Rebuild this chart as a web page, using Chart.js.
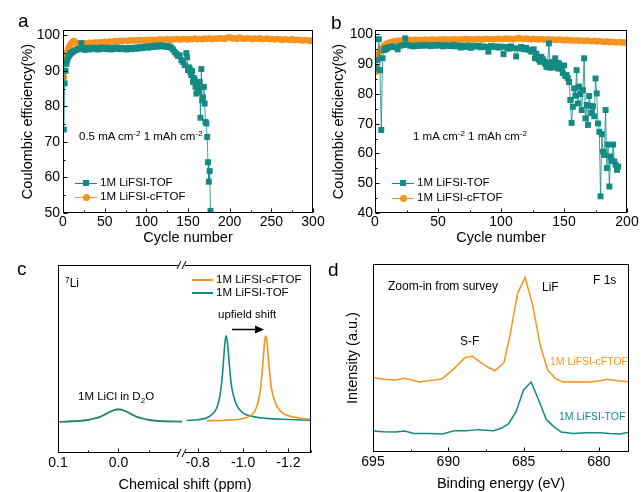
<!DOCTYPE html>
<html>
<head>
<meta charset="utf-8">
<title>Coulombic efficiency, 7Li NMR and F 1s XPS</title>
<script src="https://cdn.jsdelivr.net/npm/chart.js@4.4.1/dist/chart.umd.min.js"></script>
<style>
  html, body { margin: 0; padding: 0; background: #fff; overflow: hidden; }
  #fig { position: relative; width: 641px; height: 492px; overflow: hidden;
         font-family: "Liberation Sans", Arial, sans-serif; color: #000; }
  #fig canvas { position: absolute; }
  .t { position: absolute; line-height: 1; white-space: nowrap; transform: translateY(-50%); }
  .tc { position: absolute; line-height: 1; white-space: nowrap; transform: translate(-50%, -50%); }
  .letter { font-size: 19px; }
  .sup { font-size: 0.7em; position: relative; top: -0.5em; }
  .sub { font-size: 0.7em; position: relative; top: 0.35em; }
  .row { position: absolute; height: 0; }
  .row .ln { position: absolute; left: 0; height: 0; }
  .row .mk { position: absolute; }
  .row .lab { position: absolute; line-height: 1; white-space: nowrap; transform: translateY(-50%); }
</style>
</head>
<body>
<div id="fig">
  <canvas id="chartA" width="330" height="250" style="left:0;top:0"></canvas>
  <canvas id="chartB" width="321" height="250" style="left:320px;top:0"></canvas>
  <canvas id="chartCL" width="200" height="242" style="left:0;top:250px"></canvas>
  <canvas id="chartCR" width="160" height="242" style="left:170px;top:250px"></canvas>
  <canvas id="chartD" width="321" height="250" style="left:320px;top:250px"></canvas>

  <!-- panel letters -->
  <div class="t letter" style="left:18px;top:20px">a</div>
  <div class="t letter" style="left:331px;top:22px">b</div>
  <div class="t letter" style="left:17px;top:268px">c</div>
  <div class="t letter" style="left:328px;top:269px">d</div>

  <!-- panel a notes -->
  <div class="t" style="left:79px;top:137px;font-size:11.5px">0.5 mA cm<span class="sup">-2</span> 1 mAh cm<span class="sup">-2</span></div>
  <div class="row" style="left:75px;top:183px">
    <i class="ln" style="width:22px;top:-0.5px;border-top:1px solid #138a84"></i>
    <i class="mk" style="left:8px;top:-3px;width:6px;height:6px;background:#138a84"></i>
    <span class="lab" style="left:25px;font-size:11.5px">1M LiFSI-TOF</span>
  </div>
  <div class="row" style="left:75px;top:197px">
    <i class="ln" style="width:22px;top:-0.5px;border-top:1px solid #f7931e"></i>
    <i class="mk" style="left:7.5px;top:-3.5px;width:7px;height:7px;border-radius:50%;background:#f7931e"></i>
    <span class="lab" style="left:25px;font-size:11.5px">1M LiFSI-cFTOF</span>
  </div>

  <!-- panel b notes -->
  <div class="t" style="left:413px;top:137px;font-size:11.5px">1 mA cm<span class="sup">-2</span> 1 mAh cm<span class="sup">-2</span></div>
  <div class="row" style="left:392px;top:183px">
    <i class="ln" style="width:22px;top:-0.5px;border-top:1px solid #138a84"></i>
    <i class="mk" style="left:8px;top:-3px;width:6px;height:6px;background:#138a84"></i>
    <span class="lab" style="left:25px;font-size:11.5px">1M LiFSI-TOF</span>
  </div>
  <div class="row" style="left:392px;top:198px">
    <i class="ln" style="width:22px;top:-0.5px;border-top:1px solid #f7931e"></i>
    <i class="mk" style="left:7.5px;top:-3.5px;width:7px;height:7px;border-radius:50%;background:#f7931e"></i>
    <span class="lab" style="left:25px;font-size:11.5px">1M LiFSI-cFTOF</span>
  </div>

  <!-- panel c notes -->
  <div class="t" style="left:65px;top:283px;font-size:12px"><span class="sup">7</span>Li</div>
  <div class="row" style="left:192px;top:280px">
    <i class="ln" style="width:21px;top:-1px;border-top:2px solid #f7931e"></i>
    <span class="lab" style="left:24px;font-size:11.5px">1M LiFSI-cFTOF</span>
  </div>
  <div class="row" style="left:192px;top:293px">
    <i class="ln" style="width:21px;top:-1px;border-top:2px solid #138a84"></i>
    <span class="lab" style="left:24px;font-size:11.5px">1M LiFSI-TOF</span>
  </div>
  <div class="t" style="left:218px;top:315px;font-size:11.5px">upfield shift</div>
  <svg style="position:absolute;left:232px;top:324px" width="34" height="11">
    <line x1="0" y1="5.5" x2="25" y2="5.5" stroke="#000" stroke-width="1.5"></line>
    <polygon points="23,1.5 32,5.5 23,9.5" fill="#000"></polygon>
  </svg>
  <div class="t" style="left:78px;top:397px;font-size:11.5px">1M LiCl in D<span class="sub">2</span>O</div>
  <div class="tc" style="left:185px;top:484px;font-size:14.5px">Chemical shift (ppm)</div>

  <!-- panel d notes -->
  <div class="t" style="left:388px;top:286px;font-size:12px">Zoom-in from survey</div>
  <div class="t" style="left:542px;top:287px;font-size:12px">LiF</div>
  <div class="t" style="left:593px;top:280px;font-size:12px">F 1s</div>
  <div class="t" style="left:460px;top:341px;font-size:12px">S-F</div>
  <div class="t" style="left:550px;top:361px;font-size:10.5px;color:#f7931e">1M LiFSI-cFTOF</div>
  <div class="t" style="left:559px;top:416px;font-size:10.5px;color:#138a84">1M LiFSI-TOF</div>
</div>

<script>
const TEAL = '#138a84';
const ORANGE = '#f7931e';

// ---- panel a: 0.5 mA cm-2, 1 mAh cm-2 ----
const cycleTicksA = [0, 50, 100, 150, 200, 250, 300];
const ceTicksA = [50, 60, 70, 80, 90, 100];
const tofACycles = [1,2,3,4,5,6,7,8,9,10,12,14,16,18,20,22,24,26,28,30,32,34,36,38,40,42,44,46,48,50,52,54,56,58,60,62,64,66,68,70,72,74,76,78,80,82,84,86,88,90,92,94,96,98,100,102,104,106,108,110,112,114,116,118,120,122,124,126,128,130,132,134,136,138,140,142,144,146,148,149,150,151,152,153,154,155,156,157,158,159,160,161,162,163,164,165,166,167,168,169,170,171,172,173,174,175,176,177];
const tofAValues = [73.5,86.5,90.0,92.0,93.0,93.8,94.3,94.6,94.9,95.1,
  95.4,95.7,95.9,96.1,96.2,97.8,96.3,95.9,96.4,96.0,96.3,96.1,96.5,96.2,96.4,96.0,96.3,96.6,96.2,96.4,
  96.1,96.5,96.3,96.0,96.4,96.2,96.6,96.3,96.1,96.5,96.2,96.4,96.0,96.3,96.5,96.1,96.4,96.2,96.6,96.3,
  96.5,96.8,96.4,96.7,96.9,96.5,96.8,97.0,96.7,97.1,96.8,97.0,97.2,96.9,97.1,96.8,97.0,96.7,96.9,96.5,
  96.0,95.3,94.8,94.2,94.4,93.0,92.5,91.6,95.0,
  93.8,90.2,91.0,90.6,89.6,88.8,90.0,86.9,88.0,87.4,85.5,83.6,86.2,85.0,84.0,86.9,76.8,90.5,81.7,82.5,
  85.5,80.8,75.6,75.2,71.4,64.3,58.8,61.8,50.6];
const cftofACycles = [1,2,3,4,5,6,7,8,9,10,11,12,13,14,15,16,17,18,20,23,26,29,32,35,38,41,44,47,50,53,56,59,62,65,68,71,74,77,80,83,86,89,92,95,98,101,104,107,110,113,116,119,122,125,128,131,134,137,140,143,146,149,152,155,158,161,164,167,170,173,176,179,182,185,188,191,194,197,200,203,206,209,212,215,218,221,224,227,230,233,236,239,242,245,248,251,254,257,260,263,266,269,272,275,278,281,284,287,290,293,296,299];
const cftofAValues = [88.2,93.0,94.0,94.8,95.4,96.0,96.5,97.0,97.4,97.7,98.0,98.2,98.4,98.2,98.0,97.8,97.7,97.6,
  97.6,97.7,97.8,97.7,97.9,97.8,98.0,97.9,98.1,98.0,
  98.2,98.1,98.3,98.2,98.4,98.3,98.5,98.4,98.5,98.4,
  98.6,98.5,98.6,98.5,98.7,98.6,98.7,98.6,98.8,98.7,
  98.8,98.7,98.9,98.7,98.8,98.9,98.7,98.9,98.8,99.0,
  98.8,98.9,99.0,98.8,99.0,98.9,99.1,98.9,99.0,98.9,
  99.1,99.0,99.2,98.9,99.1,99.0,99.2,99.1,99.0,99.3,
  99.5,99.1,99.2,99.0,99.4,99.1,99.0,99.2,99.1,98.9,
  99.1,99.0,99.2,98.9,99.0,99.1,98.9,99.0,98.8,99.0,
  98.9,98.7,98.9,98.8,98.7,98.9,98.6,98.8,98.7,98.5,
  98.7,98.6,98.4,98.6];

// ---- panel b: 1 mA cm-2, 1 mAh cm-2 ----
const cycleTicksB = [0, 50, 100, 150, 200];
const ceTicksB = [40, 50, 60, 70, 80, 90, 100];
const tofBCycles = [1,2,3,4,5,6,7,8,9,10,12,14,16,18,20,22,24,26,28,30,32,34,36,38,40,42,44,46,48,50,52,54,56,58,60,62,64,66,68,70,72,74,76,78,80,82,84,86,88,90,92,94,96,98,100,102,104,106,108,110,112,114,116,118,120,122,124,126,127,128,130,131,132,133,134,135,136,137,138,139,140,141,142,143,144,145,146,147,148,149,150,151,152,153,154,155,156,157,158,159,160,161,162,163,164,165,166,167,168,169,170,171,172,173,174,175,176,177,178,179,180,181,182,183,184,185,186,187,188,189,190,191,192,193];
const tofBValues = [88.6,91.4,98.4,88.0,67.9,92.0,94.7,95.3,95.0,95.5,
  95.8,96.0,95.7,95.0,96.2,96.4,98.7,96.5,96.2,96.0,
  96.3,96.1,96.4,96.2,96.5,96.3,96.1,96.4,96.2,96.5,
  96.3,96.0,96.4,96.2,96.1,96.5,96.0,96.3,95.6,96.2,
  95.8,96.3,95.5,96.1,95.9,96.2,95.7,96.0,95.8,94.2,
  96.1,95.8,96.0,95.6,95.9,93.4,95.8,95.2,96.0,95.4,
  92.6,95.3,95.8,95.0,95.5,94.8,94.2,95.0,
  92.0,93.5,
  91.5,90.8,92.5,91.8,91.0,90.2,89.1,90.5,97.0,88.8,
  90.0,90.8,89.0,92.0,90.5,88.6,90.3,88.5,89.2,87.0,
  89.6,86.0,86.4,85.3,84.0,78.0,70.3,75.7,81.9,79.4,
  88.0,76.8,82.5,80.0,74.6,81.3,92.0,71.8,76.3,69.6,
  79.3,76.0,73.6,75.8,72.5,85.2,80.2,70.1,67.3,45.6,
  66.5,60.6,59.5,74.6,55.1,63.0,48.9,59.0,57.5,63.0,
  57.3,56.2,54.5,55.6];
const cftofBCycles = [1,2,3,4,5,6,7,8,9,10,12,14,16,18,20,22,24,26,28,30,32,34,36,38,40,42,44,46,48,50,52,54,56,58,60,62,64,66,68,70,72,74,76,78,80,82,84,86,88,90,92,94,96,98,100,102,104,106,108,110,112,114,116,118,120,122,124,126,128,130,132,134,136,138,140,142,144,146,148,150,152,154,156,158,160,162,164,166,168,170,172,174,176,178,180,182,184,186,188,190,192,194,196,198,200];
const cftofBValues = [87.5,92.3,93.5,94.5,95.2,95.8,96.2,96.6,96.9,97.1,
  97.4,97.6,97.8,97.9,98.0,
  98.0,98.1,98.0,98.2,98.1,98.2,98.0,98.2,98.1,98.3,
  98.1,98.2,98.3,98.1,98.3,98.2,98.4,98.2,98.3,98.2,
  98.4,98.3,98.2,98.4,98.3,98.5,98.3,98.4,98.2,98.4,
  98.5,98.3,98.4,98.6,98.4,98.5,98.3,98.5,98.6,98.4,
  98.5,98.7,98.5,98.6,98.4,98.6,98.8,98.6,98.5,98.7,
  98.5,98.4,98.6,98.4,98.3,98.5,98.3,98.2,98.4,98.2,
  98.3,98.1,98.3,98.2,98.0,98.2,98.0,98.1,97.9,98.1,
  97.9,98.0,97.8,98.0,97.8,97.7,97.9,97.6,97.8,97.6,
  97.5,97.7,97.4,97.6,97.4,97.3,97.5,97.2,97.4,97.2];

// ---- panel c: 7Li NMR, broken shift axis (intensity in a.u.) ----
const shiftTicksLeft = [0.1, 0.0];
const shiftTicksRight = [-0.8, -1.0, -1.2];
const licShift = [0.1,0.08,0.06,0.05,0.04,0.03,0.02,0.01,0,-0.01,-0.02,-0.03,-0.04,-0.05,-0.06,-0.08,-0.105];
const licIntensity = [16.6,16.8,17.2,17.6,18.3,19.3,20.9,22.5,23.2,22.5,20.9,19.3,18.3,17.6,17.2,16.8,16.7];
const tofShift = [-0.75,-0.8,-0.85,-0.88,-0.89,-0.9,-0.905,-0.91,-0.915,-0.92,-0.925,-0.93,-0.935,-0.94,-0.945,-0.95,-0.96,-0.97,-0.98,-1.0,-1.05,-1.1,-1.2,-1.3];
const tofIntensity = [17.3,17.7,19.3,23.1,26.3,32.3,37.2,43.7,51.6,59.0,62.3,59.6,53.2,45.9,39.6,34.6,29.5,26.0,23.8,21.2,19.2,18.4,17.8,17.4];
const cftofShift = [-0.84,-0.9,-0.95,-1.0,-1.03,-1.05,-1.06,-1.07,-1.075,-1.08,-1.085,-1.09,-1.095,-1.1,-1.105,-1.11,-1.115,-1.12,-1.125,-1.135,-1.145,-1.155,-1.175,-1.2,-1.25,-1.3];
const cftofIntensity = [17.2,17.3,17.6,18.3,19.6,22.0,24.6,29.0,32.7,37.6,43.9,51.8,59.2,62.2,59.6,53.2,45.9,39.6,34.6,29.5,26.0,23.8,21.2,19.8,18.6,17.8];

// ---- panel d: F 1s XPS (intensity in a.u.) ----
const energyTicks = [695, 690, 685, 680];
const cftofEnergy = [695.0,694.3,693.5,692.9,691.9,691.1,690.4,689.6,688.9,688.4,687.9,687.3,686.9,686.3,685.9,685.4,684.9,684.4,683.9,683.4,682.9,682.4,681.5,680.6,679.9,679.5,678.7,678.0];
const cftofXps = [39.7,38.7,38.3,39.2,37.2,38.1,39.0,44.5,50.2,50.9,48.0,44.8,43.2,47.5,62.2,84.4,92.9,78.2,56.9,43.6,39.2,37.2,37.4,37.2,37.9,38.7,37.9,37.4];
const tofEnergy = [695.0,694.3,693.5,692.9,692.3,691.3,690.4,689.6,688.8,688.0,687.0,686.5,686.0,685.5,685.0,684.5,684.0,683.5,683.0,682.5,681.7,680.8,679.9,679.3,678.6,678.0];
const tofXps = [11.2,10.8,10.6,11.2,9.9,9.9,9.6,11.3,11.3,11.9,11.3,12.6,14.9,21.4,33.0,37.2,27.7,17.4,13.5,10.6,9.9,10.3,10.3,9.9,9.6,10.5];

Chart.defaults.font.family = '"Liberation Sans", Arial, sans-serif';
Chart.defaults.color = '#000';

const pts = (xs, ys) => xs.map((x, i) => ({ x: x, y: ys[i] }));

// frame round the plot area plus inward major/minor ticks
const framePlugin = {
  id: 'frame',
  afterDraw(chart, args, opts) {
    const ctx = chart.ctx, a = chart.chartArea;
    const l = Math.round(a.left) + 0.5, r = Math.round(a.right) - 0.5;
    const t = Math.round(a.top) + 0.5, b = Math.round(a.bottom) - 0.5;
    const sides = opts.sides || 'tlrb';
    ctx.save();
    ctx.strokeStyle = '#000';
    ctx.lineWidth = 1;
    ctx.beginPath();
    if (sides.includes('t')) { ctx.moveTo(a.left, t); ctx.lineTo(a.right, t); }
    if (sides.includes('b')) { ctx.moveTo(a.left, b); ctx.lineTo(a.right, b); }
    if (sides.includes('l')) { ctx.moveTo(l, a.top); ctx.lineTo(l, a.bottom); }
    if (sides.includes('r')) { ctx.moveTo(r, a.top); ctx.lineTo(r, a.bottom); }
    ctx.stroke();
    (opts.tickAxes || []).forEach(id => {
      const s = chart.scales[id];
      const vals = s.ticks.map(k => k.value);
      const minors = [];
      if (vals.length > 1) {
        const step = vals[1] - vals[0];
        for (let k = -1; k < vals.length; k++) {
          const m = vals[0] + step * (k + 0.5);
          if (m > s.min && m < s.max) minors.push(m);
        }
      }
      const mark = (v, len) => {
        const p = Math.round(s.getPixelForValue(v)) + 0.5;
        if (s.isHorizontal()) { ctx.moveTo(p, b); ctx.lineTo(p, b - len); }
        else { ctx.moveTo(l, p); ctx.lineTo(l + len, p); }
      };
      ctx.beginPath();
      vals.forEach(v => mark(v, 4));
      minors.forEach(v => mark(v, 2));
      ctx.stroke();
    });
    ctx.restore();
  }
};

// "//" marks where the shift axis is broken
const breakMarks = {
  id: 'breakMarks',
  afterDraw(chart) {
    const ctx = chart.ctx, a = chart.chartArea;
    const x = Math.round(a.left);
    ctx.save();
    [Math.round(a.top), Math.round(a.bottom)].forEach(y => {
      ctx.fillStyle = '#fff';
      ctx.fillRect(x - 3, y - 2, 6, 4);
      ctx.strokeStyle = '#000';
      ctx.lineWidth = 1;
      ctx.beginPath();
      ctx.moveTo(x - 5, y + 4); ctx.lineTo(x - 1, y - 4);
      ctx.moveTo(x, y + 4); ctx.lineTo(x + 4, y - 4);
      ctx.stroke();
    });
    ctx.restore();
  }
};

function axis(o) {
  return {
    type: 'linear', min: o.min, max: o.max, reverse: !!o.reverse, display: o.display !== false,
    afterBuildTicks: s => { s.ticks = (o.ticks || []).map(v => ({ value: v })); },
    afterFit: s => { if (o.size != null) { if (s.isHorizontal()) s.height = o.size; else s.width = o.size; } },
    grid: { display: false, drawTicks: false },
    border: { display: false },
    ticks: { display: o.labels !== false, font: { size: 14 }, color: '#000', padding: o.pad || 2,
             autoSkip: false, maxRotation: 0, callback: o.fmt || (v => String(v)) },
    title: o.title ? { display: true, text: o.title, font: { size: 14.5 }, color: '#000', padding: o.titlePad }
                   : { display: false }
  };
}

function baseOptions(padding, scales, frame) {
  return {
    responsive: false, animation: false, events: [],
    layout: { padding: padding },
    plugins: { legend: { display: false }, tooltip: { enabled: false }, frame: frame },
    scales: scales
  };
}

function cycleSet(label, xs, ys, color, style, radius, order) {
  return {
    label: label, data: pts(xs, ys), order: order,
    borderColor: color, borderWidth: 0.8, backgroundColor: color,
    pointStyle: style, pointRadius: radius, pointBackgroundColor: color, pointBorderWidth: 0,
    tension: 0
  };
}

// panel a
new Chart(document.getElementById('chartA'), {
  type: 'line',
  data: { datasets: [
    cycleSet('1M LiFSI-TOF', tofACycles, tofAValues, TEAL, 'rect', 4.2, 0),
    cycleSet('1M LiFSI-cFTOF', cftofACycles, cftofAValues, ORANGE, 'circle', 3.2, 1)
  ]},
  options: baseOptions({ left: 0, top: 30, right: 17, bottom: 0 }, {
    x: axis({ min: 0, max: 300, ticks: cycleTicksA, size: 37, pad: 1, title: 'Cycle number', titlePad: { top: 0, bottom: 3 } }),
    y: axis({ min: 50, max: 101.5, ticks: ceTicksA, size: 63, pad: 3, title: 'Coulombic efficiency(%)', titlePad: { top: 19, bottom: 0 } })
  }, { sides: 'tlrb', tickAxes: ['x', 'y'] }),
  plugins: [framePlugin]
});

// panel b
new Chart(document.getElementById('chartB'), {
  type: 'line',
  data: { datasets: [
    cycleSet('1M LiFSI-TOF', tofBCycles, tofBValues, TEAL, 'rect', 4.2, 0),
    cycleSet('1M LiFSI-cFTOF', cftofBCycles, cftofBValues, ORANGE, 'circle', 3.2, 1)
  ]},
  options: baseOptions({ left: 0, top: 30, right: 14, bottom: 0 }, {
    x: axis({ min: 0, max: 200, ticks: cycleTicksB, size: 37, pad: 1, title: 'Cycle number', titlePad: { top: 0, bottom: 3 } }),
    y: axis({ min: 40, max: 101.5, ticks: ceTicksB, size: 55, pad: 2, title: 'Coulombic efficiency(%)', titlePad: { top: 10, bottom: 0 } })
  }, { sides: 'tlrb', tickAxes: ['x', 'y'] }),
  plugins: [framePlugin]
});

function nmrSet(label, xs, ys, color, order) {
  return {
    label: label, data: pts(xs, ys), order: order,
    borderColor: color, borderWidth: 1.6, pointRadius: 0,
    cubicInterpolationMode: 'monotone', fill: false
  };
}
const fmt1 = v => v.toFixed(1);

// panel c, left part of the broken axis (LiCl reference)
new Chart(document.getElementById('chartCL'), {
  type: 'line',
  data: { datasets: [
    nmrSet('1M LiFSI-TOF', licShift, licIntensity, TEAL, 0),
    nmrSet('1M LiFSI-cFTOF', licShift, licIntensity, ORANGE, 1)
  ]},
  options: baseOptions({ left: 58, top: 15, right: 18, bottom: 0 }, {
    x: axis({ min: -0.105, max: 0.1, reverse: true, ticks: shiftTicksLeft, size: 39, pad: 2, fmt: fmt1 }),
    y: axis({ min: 0, max: 100, display: false })
  }, { sides: 'tlb', tickAxes: ['x'] }),
  plugins: [framePlugin]
});

// panel c, right part of the broken axis
new Chart(document.getElementById('chartCR'), {
  type: 'line',
  data: { datasets: [
    nmrSet('1M LiFSI-TOF', tofShift, tofIntensity, TEAL, 1),
    nmrSet('1M LiFSI-cFTOF', cftofShift, cftofIntensity, ORANGE, 0)
  ]},
  options: baseOptions({ left: 12, top: 15, right: 19, bottom: 0 }, {
    x: axis({ min: -1.3, max: -0.73, reverse: true, ticks: shiftTicksRight, size: 39, pad: 2, fmt: fmt1 }),
    y: axis({ min: 0, max: 100, display: false })
  }, { sides: 'trb', tickAxes: ['x'] }),
  plugins: [framePlugin, breakMarks]
});

// panel d
new Chart(document.getElementById('chartD'), {
  type: 'line',
  data: { datasets: [
    { label: '1M LiFSI-cFTOF', data: pts(cftofEnergy, cftofXps), borderColor: ORANGE, borderWidth: 1.5, pointRadius: 0, tension: 0 },
    { label: '1M LiFSI-TOF', data: pts(tofEnergy, tofXps), borderColor: TEAL, borderWidth: 1.5, pointRadius: 0, tension: 0 }
  ]},
  options: baseOptions({ left: 0, top: 14, right: 12, bottom: 0 }, {
    x: axis({ min: 678, max: 695, reverse: true, ticks: energyTicks, size: 48, pad: 2, title: 'Binding energy (eV)', titlePad: { top: 0, bottom: 7 } }),
    y: axis({ min: 0, max: 100, labels: false, size: 53, title: 'Intensity (a.u.)', titlePad: { top: 24, bottom: 0 } })
  }, { sides: 'tlrb', tickAxes: ['x'] }),
  plugins: [framePlugin]
});
</script>
</body>
</html>
